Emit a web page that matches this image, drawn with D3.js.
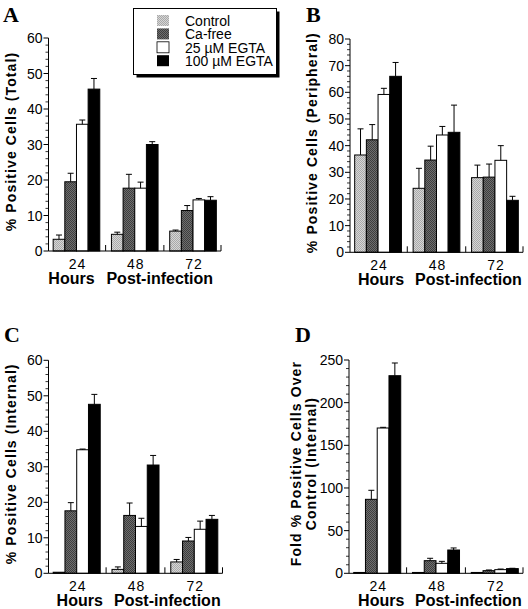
<!DOCTYPE html>
<html><head><meta charset="utf-8">
<script src="https://cdn.jsdelivr.net/npm/d3@7"></script>
<style>body{margin:0;background:#fff} svg{display:block}</style>
</head><body>
<script>
// ---------- DATA ----------
const categories = ["24", "48", "72"];
const seriesNames = ["Control", "Ca-free", "25 \u00B5M EGTA", "100 \u00B5M EGTA"];

// Panel A: % positive cells (Total) — rows = series, cols = 24/48/72 h
const totalMean = [[3.3, 4.7, 5.6], [19.5, 17.7, 11.4], [35.7, 17.7, 14.4], [45.6, 30.0, 14.3]];
const totalErr  = [[1.2, 0.6, 0.3], [2.4, 3.9, 1.4], [1.2, 1.7, 0.4], [3.0, 0.8, 1.0]];
// Panel B: Peripheral
const periMean = [[36.5, 24.0, 28.0], [42.2, 34.6, 28.2], [59.2, 44.0, 34.5], [66.0, 45.0, 19.5]];
const periErr  = [[9.8, 7.5, 4.7], [5.7, 5.2, 4.9], [2.3, 3.2, 5.5], [5.2, 10.2, 1.5]];
// Panel C: Internal
const intMean = [[0.3, 1.1, 3.2], [17.6, 16.3, 9.1], [34.8, 13.2, 12.4], [47.6, 30.5, 15.2]];
const intErr  = [[0.0, 0.7, 0.7], [2.3, 3.5, 1.0], [0.2, 2.3, 2.3], [2.8, 2.7, 1.1]];
// Panel D: Fold over control (Internal)
const foldMean = [[1.0, 1.0, 1.0], [86.7, 14.8, 3.1], [170.3, 11.7, 4.3], [231.6, 27.3, 5.5]];
const foldErr  = [[0.0, 0.0, 0.0], [10.6, 2.8, 0.8], [0.8, 2.3, 0.7], [14.9, 2.4, 0.4]];

// Tick labels
const ticksTotal = [0, 10, 20, 30, 40, 50, 60];
const ticksPeri  = [0, 10, 20, 30, 40, 50, 60, 70, 80];
const ticksInt   = [0, 10, 20, 30, 40, 50, 60];
const ticksFold  = [0, 50, 100, 150, 200, 250];

// ---------- DRAW ----------
const W = 528, H = 609;
const svg = d3.select("body").append("svg").attr("width", W).attr("height", H);
const sans = "'Liberation Sans', Arial, Helvetica, sans-serif";
const serif = "'Liberation Serif', 'Times New Roman', serif";

const defs = svg.append("defs");
function checker(id, bg, fg) {
  const p = defs.append("pattern").attr("id", id).attr("width", 2).attr("height", 2)
    .attr("patternUnits", "userSpaceOnUse");
  p.append("rect").attr("width", 2).attr("height", 2).attr("fill", bg);
  p.append("rect").attr("width", 1).attr("height", 1).attr("fill", fg);
  p.append("rect").attr("x", 1).attr("y", 1).attr("width", 1).attr("height", 1).attr("fill", fg);
}
checker("pCtrl", "#d6d6d6", "#a9a9a9");
checker("pCa", "#6e6e6e", "#3e3e3e");
const fills = ["url(#pCtrl)", "url(#pCa)", "#ffffff", "#000000"];

const panels = [
  { letter: "A", lx: 3, ly: 22, mean: totalMean, err: totalErr, ticks: ticksTotal, minor: 2,
    box: { l: 48.5, r: 221, t: 38, b: 251 }, titles: ["% Positive Cells (Total)"], hdx: -5, pdx: -5 },
  { letter: "B", lx: 306, ly: 22, mean: periMean, err: periErr, ticks: ticksPeri, minor: 2,
    box: { l: 350, r: 523, t: 39, b: 252.3 }, titles: ["% Positive Cells (Peripheral)"], hdx: 3, pdx: 2 },
  { letter: "C", lx: 4, ly: 342, mean: intMean, err: intErr, ticks: ticksInt, minor: 2,
    box: { l: 48.5, r: 222.5, t: 360.3, b: 573.3 }, titles: ["% Positive Cells (Internal)"], hdx: 3, pdx: 2 },
  { letter: "D", lx: 295, ly: 342, mean: foldMean, err: foldErr, ticks: ticksFold, minor: 10,
    box: { l: 349, r: 523, t: 360, b: 573.3 }, titles: ["Fold % Positive Cells Over", "Control (Internal)"], hdx: 4, pdx: 2.5 }
];

panels.forEach(p => {
  const g = svg.append("g");
  const { l, r, t, b } = p.box;
  const ymax = p.ticks[p.ticks.length - 1];
  const y = d3.scaleLinear().domain([0, ymax]).range([b, t]);
  const x0 = d3.scaleBand().domain(categories).range([l, r]).paddingInner(0.2).paddingOuter(0.08);
  const x1 = d3.scaleBand().domain(d3.range(seriesNames.length)).range([0, x0.bandwidth()]);

  // panel letter
  svg.append("text").attr("x", p.lx).attr("y", p.ly).text(p.letter)
    .attr("font-family", serif).attr("font-weight", "bold").attr("font-size", 22);

  // bars
  categories.forEach((c, ci) => {
    seriesNames.forEach((s, si) => {
      const v = p.mean[si][ci], e = p.err[si][ci];
      const bx = x0(c) + x1(si), bw = x1.bandwidth();
      g.append("rect").attr("x", bx).attr("y", y(v)).attr("width", bw).attr("height", b - y(v))
        .attr("fill", fills[si]).attr("stroke", "#000").attr("stroke-width", 1);
      if (e > 0) {
        const cx = bx + bw / 2;
        g.append("line").attr("x1", cx).attr("x2", cx).attr("y1", y(v)).attr("y2", y(v + e))
          .attr("stroke", "#000").attr("stroke-width", 1);
        g.append("line").attr("x1", cx - 3).attr("x2", cx + 3).attr("y1", y(v + e)).attr("y2", y(v + e))
          .attr("stroke", "#000").attr("stroke-width", 1);
      }
    });
  });

  // y axis
  g.append("line").attr("x1", l).attr("x2", l).attr("y1", b).attr("y2", t).attr("stroke", "#000");
  const minorVals = d3.range(0, ymax + 0.001, p.minor).filter(v => !p.ticks.includes(v));
  minorVals.forEach(v => g.append("line").attr("x1", l - 3).attr("x2", l).attr("y1", y(v)).attr("y2", y(v))
    .attr("stroke", "#000").attr("stroke-width", 0.8));
  p.ticks.forEach(v => {
    g.append("line").attr("x1", l - 5).attr("x2", l).attr("y1", y(v)).attr("y2", y(v)).attr("stroke", "#000");
    g.append("text").attr("x", l - 6).attr("y", y(v)).attr("dy", "0.36em").attr("text-anchor", "end")
      .attr("font-family", sans).attr("font-size", 14).text(v);
  });

  // x axis
  g.append("line").attr("x1", l).attr("x2", r).attr("y1", b).attr("y2", b).attr("stroke", "#000");
  const step = x0.step();
  categories.forEach((c, ci) => {
    const tx = ci < categories.length - 1 ? x0(c) + x0.bandwidth() + (step - x0.bandwidth()) / 2 : r;
    g.append("line").attr("x1", tx).attr("x2", tx).attr("y1", b).attr("y2", b - 6).attr("stroke", "#000");
    g.append("text").attr("x", x0(c) + x0.bandwidth() / 2 + 1).attr("y", b + 18).attr("text-anchor", "middle")
      .attr("font-family", sans).attr("font-size", 14).attr("letter-spacing", 1).text(c);
  });
  g.append("text").attr("x", x0(categories[0]) + x0.bandwidth() / 2 + p.hdx).attr("y", b + 33)
    .attr("text-anchor", "middle").attr("font-family", sans).attr("font-weight", "bold").attr("font-size", 16)
    .text("Hours");
  g.append("text").attr("x", x0(categories[1]) + p.pdx).attr("y", b + 33)
    .attr("text-anchor", "start").attr("font-family", sans).attr("font-weight", "bold").attr("font-size", 16)
    .text("Post-infection");

  // y title(s)
  const my = (t + b) / 2 - 3;
  const n = p.titles.length;
  p.titles.forEach((tt, i) => {
    const tx = l - 38 - (n - 1 - i) * 15.5;
    g.append("text").attr("transform", `translate(${tx},${my}) rotate(-90)`).attr("dy", "0.36em")
      .attr("text-anchor", "middle").attr("font-family", sans).attr("font-weight", "bold")
      .attr("font-size", 14).attr("letter-spacing", 1.1).text(tt);
  });
});

// legend
const lg = svg.append("g");
const lgX = 133.5, lgY = 8.5, lgW = 143, lgH = 66;
lg.append("rect").attr("x", lgX + 3).attr("y", lgY + 3).attr("width", lgW).attr("height", lgH).attr("fill", "#000");
lg.append("rect").attr("x", lgX).attr("y", lgY).attr("width", lgW).attr("height", lgH)
  .attr("fill", "#fff").attr("stroke", "#000").attr("stroke-width", 1);
seriesNames.forEach((s, i) => {
  const yy = 15 + i * 13.4;
  lg.append("rect").attr("x", 157).attr("y", yy).attr("width", 12).attr("height", 11)
    .attr("fill", fills[i]).attr("stroke", i === 2 ? "#000" : "none").attr("stroke-width", 0.8);
  lg.append("text").attr("x", 185).attr("y", yy + 11).attr("font-family", sans).attr("font-size", 14).text(s);
});
</script>
</body></html>
